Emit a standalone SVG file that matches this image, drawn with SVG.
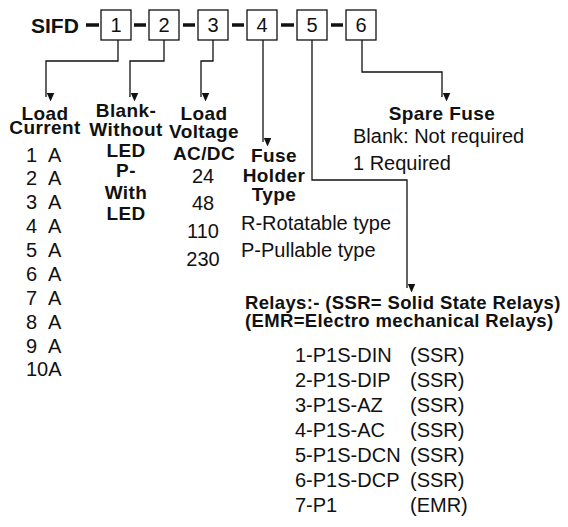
<svg xmlns="http://www.w3.org/2000/svg" width="568" height="527" viewBox="0 0 568 527">
<style>
text{font-family:"Liberation Sans",Arial,sans-serif;fill:#111}
.b{font-weight:bold;font-size:19px;letter-spacing:0.4px}
.r{font-size:20px}
.m{text-anchor:middle}
.rh{font-weight:bold;font-size:18.5px;letter-spacing:0.35px}
.box{fill:#fff;stroke:#111;stroke-width:1.3}
.dash{stroke:#111;stroke-width:3.5}
.con{fill:none;stroke:#111;stroke-width:1.3;marker-end:url(#ah)}
</style>
<defs>
<marker id="ah" markerUnits="userSpaceOnUse" markerWidth="8" markerHeight="9" refX="3.5" refY="8" orient="auto-start-reverse" viewBox="0 0 7 8">
<path d="M0,0 L7,0 L3.5,8 Z" fill="#111" transform="rotate(-90 3.5 4)"/>
</marker>
</defs>
<rect width="568" height="527" fill="#fff"/>
<g id="code">
<text x="31" y="33" style="font-weight:bold;font-size:21px">SIFD</text>
<line class="dash" x1="86" y1="25" x2="99" y2="25"/>
<line class="dash" x1="134" y1="25" x2="146" y2="25"/>
<line class="dash" x1="183" y1="25" x2="195" y2="25"/>
<line class="dash" x1="232" y1="25" x2="244" y2="25"/>
<line class="dash" x1="281" y1="25" x2="294" y2="25"/>
<line class="dash" x1="331" y1="25" x2="343" y2="25"/>
</g>
<g id="box1"><rect class="box" x="101" y="10" width="30" height="30"/><text x="116" y="32" class="r m">1</text></g>
<g id="box2"><rect class="box" x="149" y="10" width="30" height="30"/><text x="164" y="32" class="r m">2</text></g>
<g id="box3"><rect class="box" x="198" y="10" width="30" height="30"/><text x="213" y="32" class="r m">3</text></g>
<g id="box4"><rect class="box" x="247" y="10" width="30" height="30"/><text x="262" y="32" class="r m">4</text></g>
<g id="box5"><rect class="box" x="297" y="10" width="30" height="30"/><text x="312" y="32" class="r m">5</text></g>
<g id="box6"><rect class="box" x="346" y="10" width="30" height="30"/><text x="361" y="32" class="r m">6</text></g>
<g id="connectors">
<path class="con" d="M118,40 V61 H46 V97"/>
<path class="con" d="M164,40 V61 H130 V97"/>
<path class="con" d="M213,40 V61 H201 V97"/>
<path class="con" d="M263,40 V142"/>
<path class="con" d="M312,40 V180 H407 V288"/>
<path class="con" d="M362,40 V72 H442 V97"/>
</g>
<g id="load-current">
<text x="45" y="120" class="b m">Load</text>
<text x="45" y="134" class="b m">Current</text>
<g class="r">
<text x="26" y="162">1</text><text x="48" y="162">A</text>
<text x="26" y="185">2</text><text x="48" y="185">A</text>
<text x="26" y="209">3</text><text x="48" y="209">A</text>
<text x="26" y="233">4</text><text x="48" y="233">A</text>
<text x="26" y="257">5</text><text x="48" y="257">A</text>
<text x="26" y="281">6</text><text x="48" y="281">A</text>
<text x="26" y="305">7</text><text x="48" y="305">A</text>
<text x="26" y="329">8</text><text x="48" y="329">A</text>
<text x="26" y="353">9</text><text x="48" y="353">A</text>
<text x="26" y="376">10A</text>
</g>
</g>
<g id="led">
<text x="126" y="117" class="b m">Blank-</text>
<text x="126" y="136" class="b m">Without</text>
<text x="126" y="157" class="b m">LED</text>
<text x="126" y="177" class="b m">P-</text>
<text x="126" y="199" class="b m">With</text>
<text x="126" y="220" class="b m">LED</text>
</g>
<g id="load-voltage">
<text x="204" y="120" class="b m">Load</text>
<text x="204" y="138" class="b m">Voltage</text>
<text x="204" y="160" class="b m">AC/DC</text>
<text x="203" y="183" class="r m">24</text>
<text x="203" y="210" class="r m">48</text>
<text x="203" y="238" class="r m">110</text>
<text x="203" y="266" class="r m">230</text>
</g>
<g id="fuse-holder">
<text x="274" y="162" class="b m">Fuse</text>
<text x="274" y="182" class="b m">Holder</text>
<text x="274" y="201" class="b m">Type</text>
<text x="241" y="230" class="r">R-Rotatable type</text>
<text x="241" y="257" class="r">P-Pullable type</text>
</g>
<g id="spare-fuse">
<text x="442" y="120" class="b m">Spare Fuse</text>
<text x="353" y="143" class="r">Blank: Not required</text>
<text x="353" y="170" class="r">1 Required</text>
</g>
<g id="relays">
<text x="245" y="309" class="rh">Relays:- (SSR= Solid State Relays)</text>
<text x="245" y="327" class="rh">(EMR=Electro mechanical Relays)</text>
<g class="r">
<text x="295" y="362">1-P1S-DIN</text><text x="410" y="362">(SSR)</text>
<text x="295" y="387">2-P1S-DIP</text><text x="410" y="387">(SSR)</text>
<text x="295" y="412">3-P1S-AZ</text><text x="410" y="412">(SSR)</text>
<text x="295" y="437">4-P1S-AC</text><text x="410" y="437">(SSR)</text>
<text x="295" y="462">5-P1S-DCN</text><text x="410" y="462">(SSR)</text>
<text x="295" y="487">6-P1S-DCP</text><text x="410" y="487">(SSR)</text>
<text x="295" y="512">7-P1</text><text x="410" y="512">(EMR)</text>
</g>
</g>
</svg>
